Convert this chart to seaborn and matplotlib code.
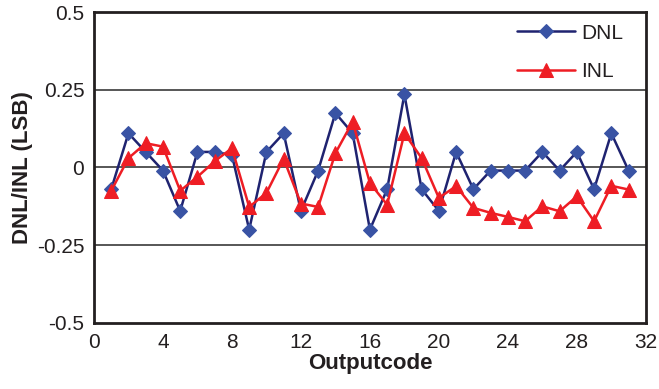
import numpy as np
import pandas as pd
import matplotlib
matplotlib.use("Agg")
import matplotlib.pyplot as plt
import seaborn as sns

# data
codes = list(range(1, 32))
dnl = [-0.07, 0.11, 0.05, -0.01, -0.14, 0.05, 0.05, 0.04, -0.20, 0.05,
       0.11, -0.14, -0.01, 0.175, 0.11, -0.20, -0.07, 0.235, -0.07, -0.14,
       0.05, -0.07, -0.01, -0.01, -0.01, 0.05, -0.01, 0.05, -0.07, 0.11,
       -0.01]
inl = [-0.075, 0.03, 0.078, 0.067, -0.075, -0.03, 0.02, 0.062, -0.127, -0.082,
       0.028, -0.116, -0.127, 0.046, 0.147, -0.05, -0.12, 0.11, 0.03, -0.098,
       -0.06, -0.13, -0.146, -0.159, -0.173, -0.125, -0.141, -0.093, -0.173, -0.059,
       -0.071]
xticks = [0, 4, 8, 12, 16, 20, 24, 28, 32]
yticks = [-0.5, -0.25, 0, 0.25, 0.5]
ytick_labels = ["-0.5", "-0.25", "0", "0.25", "0.5"]

df = pd.DataFrame({"code": codes, "DNL": dnl, "INL": inl})

sns.set_style("white")
plt.rcParams["font.family"] = ["Liberation Sans", "DejaVu Sans"]
ink = "#231f20"

fig = plt.figure(figsize=(6.59, 3.89), dpi=100)
ax = fig.add_axes([0.1426, 0.170, 0.8374, 0.799])

# grid lines
for y in [0.25, 0, -0.25]:
    ax.axhline(y, color="#3a3a3a", lw=1.2, zorder=1)

sns.lineplot(data=df, x="code", y="DNL", ax=ax, color="#1f2370", lw=1.8,
             marker="D", markersize=7, markerfacecolor="#3953a4",
             markeredgecolor="#3953a4", label="DNL", zorder=3)
sns.lineplot(data=df, x="code", y="INL", ax=ax, color="#ee1d24", lw=1.8,
             marker="^", markersize=10, markerfacecolor="#ee1d24",
             markeredgecolor="#ee1d24", label="INL", zorder=4)

ax.set_xlim(0, 32)
ax.set_ylim(-0.5, 0.5)
ax.set_xticks(xticks)
ax.set_xticklabels([str(t) for t in xticks])
ax.set_yticks(yticks)
ax.set_yticklabels(ytick_labels)
ax.tick_params(axis="both", direction="out", length=4, width=1.2,
               labelsize=15, colors=ink, pad=3)
ax.tick_params(axis="both", color="#3a3a3a")

for s in ax.spines.values():
    s.set_color(ink)
    s.set_linewidth(2)

ax.set_xlabel("Outputcode", fontsize=16, fontweight="bold", color=ink, labelpad=1)
ax.set_ylabel("DNL/INL (LSB)", fontsize=16, fontweight="bold", color=ink, labelpad=3)

leg = ax.legend(loc="upper right", bbox_to_anchor=(0.974, 0.99), fontsize=15,
                frameon=False, handlelength=2.8, handletextpad=0.3,
                labelspacing=0.95, borderaxespad=0)
for t in leg.get_texts():
    t.set_color(ink)

fig.savefig("out.png", dpi=100)
